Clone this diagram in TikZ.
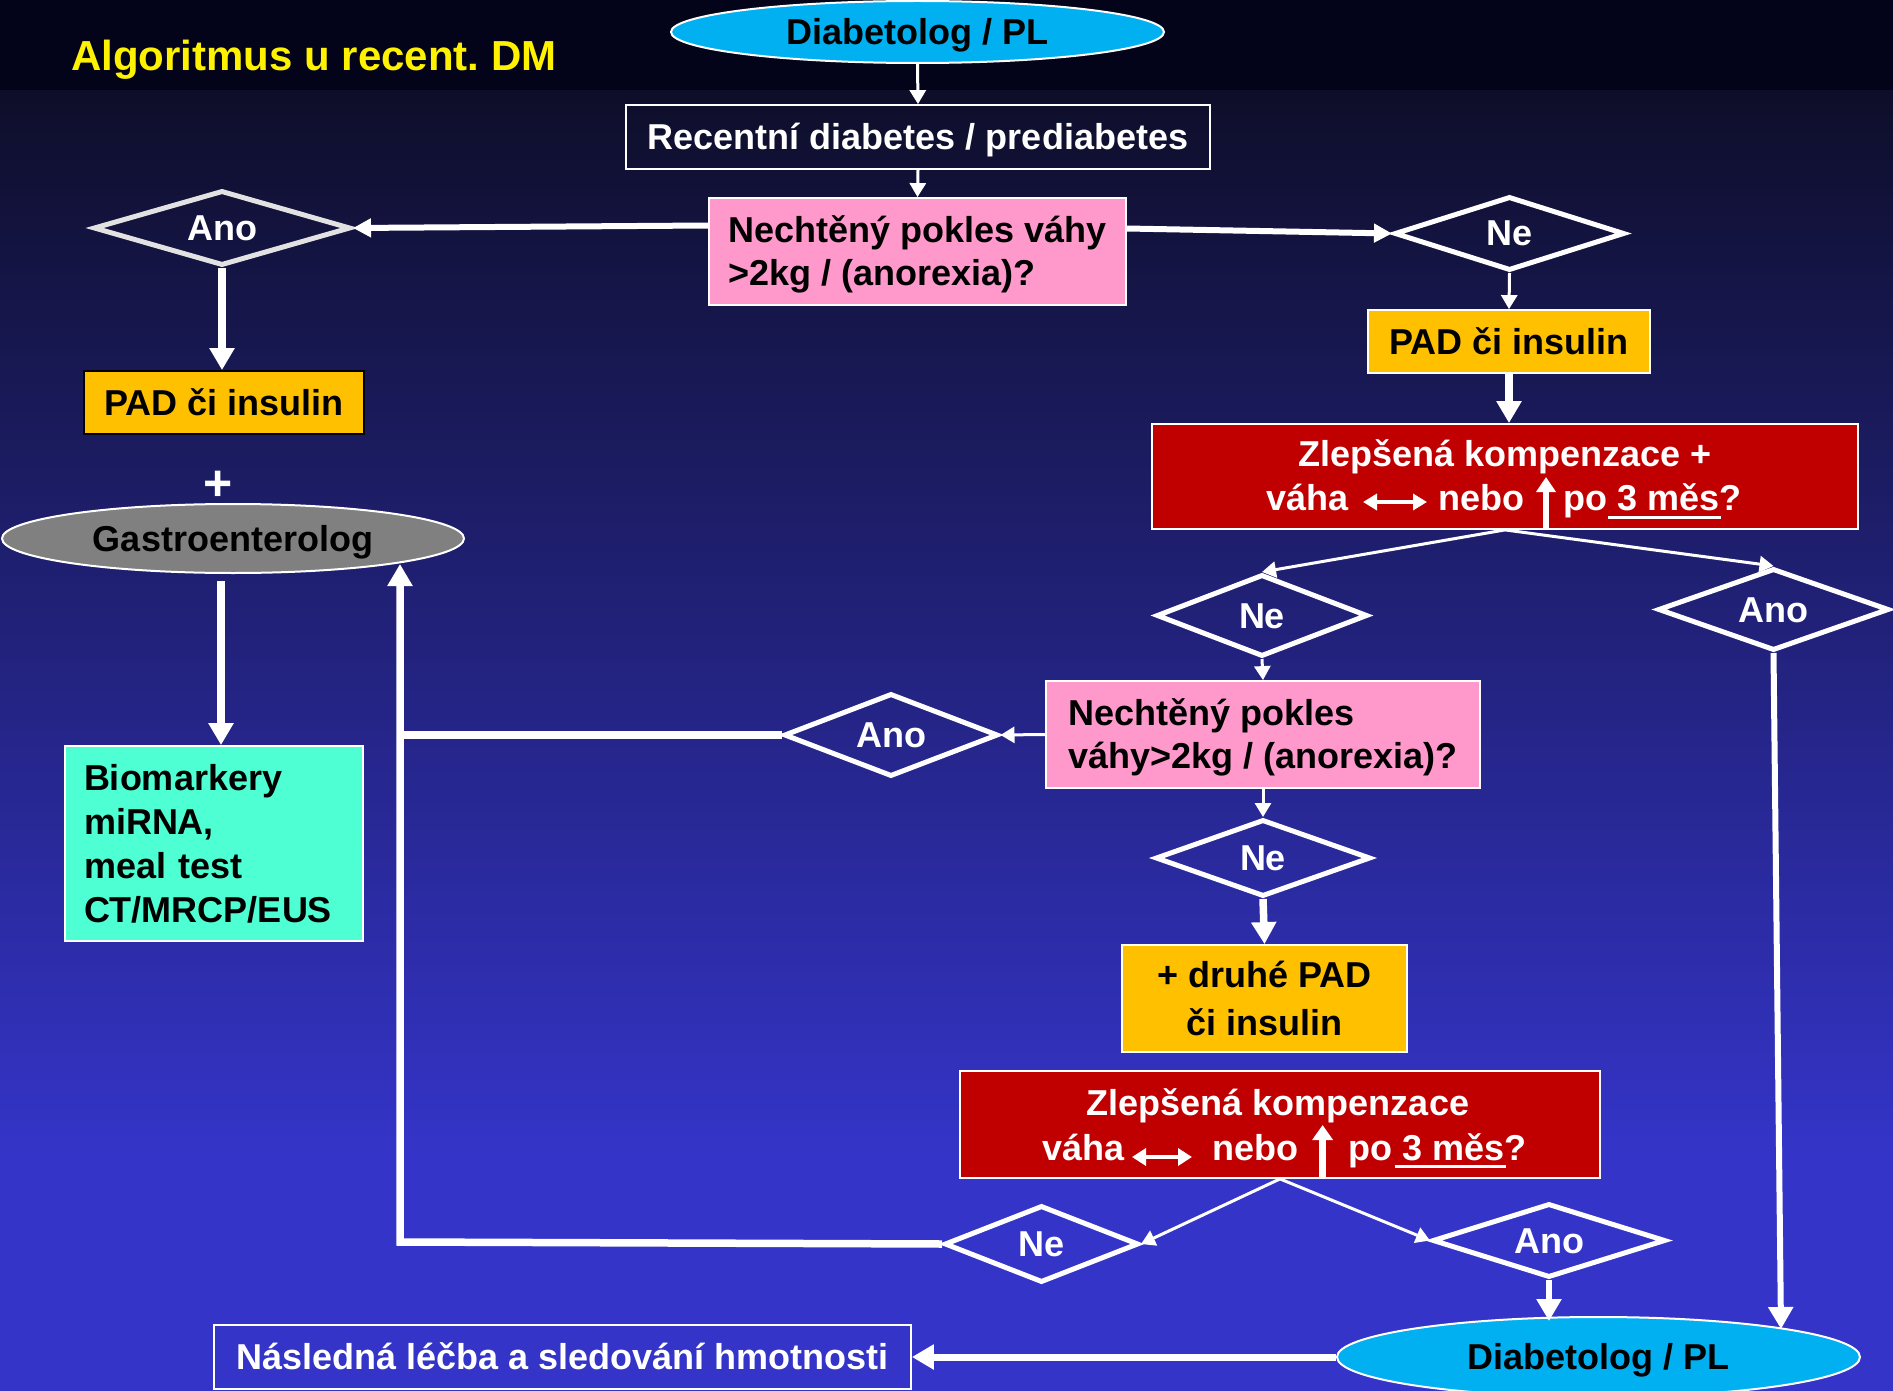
\documentclass[tikz,border=0pt]{standalone}
\usepackage{fontspec}
\setmainfont{Liberation Sans}
\usetikzlibrary{shapes.geometric,arrows.meta,calc}
\definecolor{bgtop}{RGB}{14,14,42}
\definecolor{bgbot}{RGB}{52,52,200}
\definecolor{band}{RGB}{3,3,26}
\definecolor{cyanfill}{RGB}{0,176,240}
\definecolor{pinkfill}{RGB}{255,153,204}
\definecolor{goldfill}{RGB}{255,192,0}
\definecolor{redfill}{RGB}{192,0,0}
\definecolor{aquafill}{RGB}{77,255,210}
\definecolor{greyfill}{RGB}{128,128,128}
\definecolor{lightgrey}{RGB}{226,226,226}
\newcommand{\ppstrut}{\rule[-7.6pt]{0pt}{40.2pt}}
\begin{document}
\frenchspacing
\begin{tikzpicture}[x=1pt,y=-1pt,
  txt/.style={font=\fontsize{36}{43.5}\selectfont\bfseries},
  oneline/.style={text height=32.6pt, text depth=7.6pt},
  boxw/.style={rectangle, draw=white, line width=1.8pt, inner sep=0pt, txt, text=white},
  pinkbox/.style={boxw, fill=pinkfill, text=black, align=left},
  goldbox/.style={boxw, fill=goldfill, text=black, align=center},
  redbox/.style={boxw, fill=redfill},
  decision/.style={diamond, aspect=3, draw=white, line width=5pt, inner sep=0pt, txt, text=white, oneline},
  oval/.style={ellipse, draw=white, line width=2pt, inner sep=0pt, txt, text=black, oneline},
  wtext/.style={txt, text=white, inner sep=0pt},
  thinarrow/.style={draw=white, line width=3pt, -{Triangle[length=14pt,width=16pt]}},
  midarrow/.style={draw=white, line width=6pt, -{Triangle[length=18pt,width=18pt]}},
  thickarrow/.style={draw=white, line width=7.5pt, -{Triangle[length=22pt,width=24pt]}},
  thickline/.style={draw=white, line width=7.5pt},
  glypharrow/.style={draw=white, line width=#1},
]
\useasboundingbox (0,0) rectangle (1893,1391);
% background
\fill[band] (0,0) rectangle (1893,91);
\shade[top color=bgtop, bottom color=bgbot] (0,91) rectangle (1893,1150);
\fill[bgbot] (0,1149) rectangle (1893,1391);

% title
\node[font=\fontsize{42}{50}\selectfont\bfseries, text=yellow, anchor=base west, inner sep=0pt] (title) at (71,70.7) {Algoritmus u recent. DM};

% top part
\node[oval, fill=cyanfill, minimum width=493pt, minimum height=62pt] (etop) at (917.5,32) {Diabetolog / PL};
\node[boxw, oneline, minimum width=584pt, minimum height=64pt] (rrec) at (918,137) {Recentní diabetes / prediabetes};
\node[pinkbox, minimum width=417pt, minimum height=107pt] (pink1) at (917.5,251.5) {\ppstrut Nechtěný pokles váhy\\>2kg / (anorexia)?\ppstrut};
\node[decision, draw=lightgrey, minimum width=257pt, minimum height=75pt] (dano1) at (222,228) {Ano};
\node[decision, minimum width=230pt, minimum height=74pt] (dne1) at (1509.5,233.5) {Ne};

% left column
\node[goldbox, oneline, draw=black, minimum width=280pt, minimum height=63pt] (yleft) at (224,402.5) {PAD či insulin};
\node[font=\fontsize{50}{50}\selectfont\bfseries, text=white, inner sep=0pt] (plus) at (218,486) {+};
\node[oval, fill=greyfill, minimum width=462pt, minimum height=69pt] (egastro) at (233,538.5) {Gastroenterolog};
\node[boxw, fill=aquafill, text=black, align=left, text width=260pt, inner xsep=19pt, inner ysep=0pt, minimum height=195pt, font=\fontsize{36}{44}\selectfont\bfseries] (bio) at (214,843.5) {\ppstrut Biomarkery\\miRNA,\\meal test\\CT/MRCP/EUS\ppstrut};

% right column
\node[goldbox, oneline, minimum width=282pt, minimum height=63pt] (yright) at (1509,341.5) {PAD či insulin};
\node[redbox, minimum width=706pt, minimum height=105pt] (red1) at (1505,476.5) {};
\node[wtext, anchor=base] (red1a) at (1505,466.7) {Zlepšená kompenzace +};
\node[wtext, anchor=base west] (red1b) at (1266,510) {váha};
\node[wtext, anchor=base west] (red1c) at (1438,510) {nebo};
\node[wtext, anchor=base west] (red1d) at (1563,510) {po 3 měs?};
\draw[white, line width=3pt] (1608,517) -- (1721,517);
\draw[glypharrow=4pt, {Triangle[length=14pt,width=16pt]}-{Triangle[length=14pt,width=16pt]}] (1363,502) -- (1427,502);
\draw[glypharrow=6pt, -{Triangle[length=15pt,width=19pt]}] (1546,528) -- (1546,477);

\node[decision, minimum width=211pt, minimum height=82pt] (dne2) at (1262,615.5) {Ne};
\node[decision, minimum width=231pt, minimum height=82pt] (dano2) at (1773.5,609.5) {Ano};
\node[pinkbox, minimum width=434pt, minimum height=107pt, font=\fontsize{36}{43}\selectfont\bfseries] (pink2) at (1263,734.5) {\ppstrut Nechtěný pokles\\váhy>2kg / (anorexia)?\ppstrut};
\node[decision, minimum width=214pt, minimum height=83pt] (dano3) at (891,735) {Ano};
\node[decision, minimum width=215pt, minimum height=77pt] (dne3) at (1263,858) {Ne};
\node[goldbox, minimum width=285pt, minimum height=107pt, font=\fontsize{36}{48}\selectfont\bfseries] (ymid) at (1264.5,998.5) {\ppstrut + druhé PAD\\či insulin\ppstrut};

\node[redbox, minimum width=640pt, minimum height=107pt] (red2) at (1280,1124.5) {};
\node[wtext, anchor=base] (red2a) at (1278,1115) {Zlepšená kompenzace};
\node[wtext, anchor=base west] (red2b) at (1042,1160) {váha};
\node[wtext, anchor=base west] (red2c) at (1212,1160) {nebo};
\node[wtext, anchor=base west] (red2d) at (1348,1160) {po 3 měs?};
\draw[white, line width=3pt] (1394.5,1166) -- (1506,1166);
\draw[glypharrow=4pt, {Triangle[length=14pt,width=17pt]}-{Triangle[length=14pt,width=17pt]}] (1132,1157) -- (1192,1157);
\draw[glypharrow=6.5pt, -{Triangle[length=15pt,width=20pt]}] (1322.6,1178) -- (1322.6,1125);

\node[decision, minimum width=194pt, minimum height=77pt] (dne4) at (1041.5,1244) {Ne};
\node[decision, minimum width=233pt, minimum height=74pt] (dano4) at (1549,1240.5) {Ano};
\node[oval, fill=cyanfill, minimum width=523pt, minimum height=80pt] (ebot) at (1598.5,1357) {Diabetolog / PL};
\node[boxw, oneline, minimum width=697pt, minimum height=64pt] (rfinal) at (562.5,1357) {Následná léčba a sledování hmotnosti};

% helper coordinates
\coordinate (cL1) at (400,735);
\coordinate (cL2) at (400,1242);
\coordinate (cG) at (400,564);
\coordinate (cGs) at (221,581);
\coordinate (cB1) at (1549,1321);
\coordinate (cB2) at (1781,1329);

% connectors
\draw[thinarrow] (etop.south) -- (rrec.north);
\draw[thinarrow] (rrec.south) -- (pink1.north);
\draw[midarrow] ([yshift=26pt]pink1.west) -- (dano1.east);
\draw[midarrow] ([yshift=23pt]pink1.east) -- (dne1.west);
\draw[thickarrow] (dano1.south) -- (dano1.south |- yleft.north);
\draw[thickarrow] (cGs) -- (cGs |- bio.north);
\draw[thinarrow] (dne1.south) -- (yright.north);
\draw[thickarrow] (yright.south) -- (yright.south |- red1.north);
\draw[thinarrow] (red1.south) -- (dne2.north);
\draw[thinarrow] (red1.south) -- (dano2.north);
\draw[thinarrow] (dne2.south) -- (pink2.north);
\draw[thinarrow] (pink2.west) -- (dano3.east);
\draw[thickline] (dano3.west) -- (cL1);
\draw[thickarrow] (dne4.west) -- (cL2) -- (cG);
\draw[thinarrow] (pink2.south) -- (dne3.north);
\draw[thickarrow] (dne3.south) -- (ymid.north);
\draw[thinarrow] (red2.south) -- (dne4.east);
\draw[thinarrow] (red2.south) -- (dano4.west);
\draw[thickarrow, line width=6.5pt] (dano4.south) -- (cB1);
\draw[thickarrow, line width=6pt] (dano2.south) -- (cB2);
\draw[thickarrow, line width=7pt] (ebot.west) -- (rfinal.east);
\end{tikzpicture}
\end{document}
